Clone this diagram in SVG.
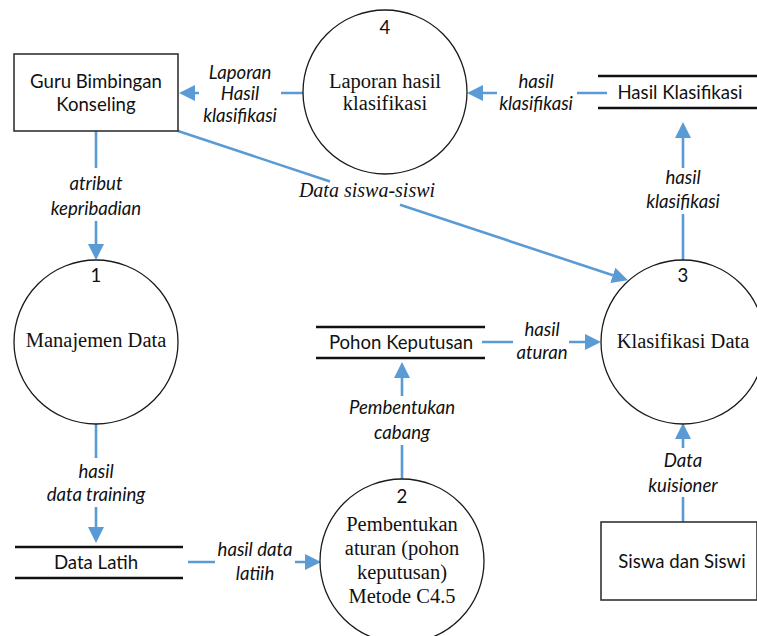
<svg xmlns="http://www.w3.org/2000/svg" width="757" height="636" viewBox="0 0 757 636">
  <style>
    .proc { fill: #fff; stroke: #1a1a1a; stroke-width: 1.3; }
    .ent { fill: #fff; stroke: #333; stroke-width: 1.6; }
    .store { stroke: #111; stroke-width: 2.6; }
    .flow { fill: none; stroke: #5B9BD5; stroke-width: 2.6; }
    .arrow { marker-end: url(#ah); }
    .sans { font-family: Lato, "Liberation Sans", sans-serif; font-size: 18.6px; fill: #111; text-anchor: middle; }
    .lbl { font-family: Lato, "Liberation Sans", sans-serif; font-size: 18.6px; font-style: italic; fill: #111; text-anchor: middle; }
    .serif { font-family: "Liberation Serif", "Times New Roman", serif; font-size: 20.5px; fill: #111; text-anchor: middle; }
    .serif-i { font-family: "Liberation Serif", "Times New Roman", serif; font-size: 20px; font-style: italic; fill: #111; text-anchor: middle; }
  </style>
  <defs>
    <marker id="ah" markerUnits="userSpaceOnUse" markerWidth="16" markerHeight="16" refX="0" refY="8" orient="auto">
      <path d="M0,0 L16,8 L0,16 Z" fill="#5B9BD5"/>
    </marker>
  </defs>
  <rect width="757" height="636" fill="#fff"/>

  <!-- data flows -->
  <g id="connectors">
    <path class="flow arrow" d="M303,93 H281 M199,93 H195"/>
    <path class="flow arrow" d="M607,93 H577 M497,93 H483"/>
    <path class="flow arrow" d="M683,260 V214 M683,168 V138"/>
    <path class="flow arrow" d="M96,131 V168 M96,221 V244"/>
    <path class="flow arrow" d="M178,131 L330,181.5 M400,204.7 L612.8,275.3"/>
    <path class="flow arrow" d="M96,424 V458 M96,507 V527"/>
    <path class="flow arrow" d="M188,562 H215 M295,562 H305"/>
    <path class="flow arrow" d="M402,479 V445 M402,396 V378"/>
    <path class="flow arrow" d="M482,342 H513 M569,342 H585"/>
    <path class="flow arrow" d="M683,522 V497 M683,448 V439"/>

    <text class="lbl"><tspan x="240" y="79">Laporan</tspan><tspan x="240" y="100">Hasil</tspan><tspan x="240" y="122">klasifikasi</tspan></text>
    <text class="lbl"><tspan x="536" y="88">hasil</tspan><tspan x="536" y="110">klasifikasi</tspan></text>
    <text class="lbl"><tspan x="683" y="184">hasil</tspan><tspan x="683" y="208">klasifikasi</tspan></text>
    <text class="lbl"><tspan x="96" y="190">atribut</tspan><tspan x="96" y="215">kepribadian</tspan></text>
    <text class="serif-i" x="367" y="197">Data siswa-siswi</text>
    <text class="lbl"><tspan x="96" y="478">hasil</tspan><tspan x="96" y="501">data training</tspan></text>
    <text class="lbl"><tspan x="255" y="556">hasil data</tspan><tspan x="255" y="580">latiih</tspan></text>
    <text class="lbl"><tspan x="402" y="414">Pembentukan</tspan><tspan x="402" y="439">cabang</tspan></text>
    <text class="lbl"><tspan x="542" y="336">hasil</tspan><tspan x="542" y="359">aturan</tspan></text>
    <text class="lbl"><tspan x="683" y="467">Data</tspan><tspan x="683" y="492">kuisioner</tspan></text>
  </g>

  <!-- external entities -->
  <g id="guru-bk">
    <rect class="ent" x="14" y="54" width="164" height="77"/>
    <text class="sans"><tspan x="96" y="88">Guru Bimbingan</tspan><tspan x="96" y="111">Konseling</tspan></text>
  </g>
  <g id="siswa">
    <rect class="ent" x="601" y="522" width="156" height="78"/>
    <text class="sans" x="682" y="568">Siswa dan Siswi</text>
  </g>

  <!-- processes -->
  <g id="proc-1">
    <circle class="proc" cx="96" cy="342" r="82"/>
    <text class="sans" x="96" y="282">1</text>
    <text class="serif" x="96" y="347">Manajemen Data</text>
  </g>
  <g id="proc-2">
    <circle class="proc" cx="402" cy="561" r="82"/>
    <text class="sans" x="402" y="503">2</text>
    <text class="serif"><tspan x="402" y="531">Pembentukan</tspan><tspan x="402" y="555">aturan (pohon</tspan><tspan x="402" y="579">keputusan)</tspan><tspan x="402" y="603">Metode C4.5</tspan></text>
  </g>
  <g id="proc-3">
    <circle class="proc" cx="683" cy="342" r="82"/>
    <text class="sans" x="683" y="282">3</text>
    <text class="serif" x="683" y="348">Klasifikasi Data</text>
  </g>
  <g id="proc-4">
    <circle class="proc" cx="385" cy="92" r="82"/>
    <text class="sans" x="385" y="34">4</text>
    <text class="serif"><tspan x="385" y="88">Laporan hasil</tspan><tspan x="385" y="110">klasifikasi</tspan></text>
  </g>

  <!-- data stores -->
  <g id="store-hasil">
    <line class="store" x1="598" y1="76" x2="757" y2="76"/>
    <line class="store" x1="598" y1="108" x2="757" y2="108"/>
    <text class="sans" x="680" y="99">Hasil Klasifikasi</text>
  </g>
  <g id="store-pohon">
    <line class="store" x1="316" y1="327" x2="485" y2="327"/>
    <line class="store" x1="316" y1="358" x2="485" y2="358"/>
    <text class="sans" x="401" y="349">Pohon Keputusan</text>
  </g>
  <g id="store-latih">
    <line class="store" x1="15" y1="547" x2="183" y2="547"/>
    <line class="store" x1="15" y1="578" x2="183" y2="578"/>
    <text class="sans" x="96" y="569">Data Latih</text>
  </g>
</svg>
